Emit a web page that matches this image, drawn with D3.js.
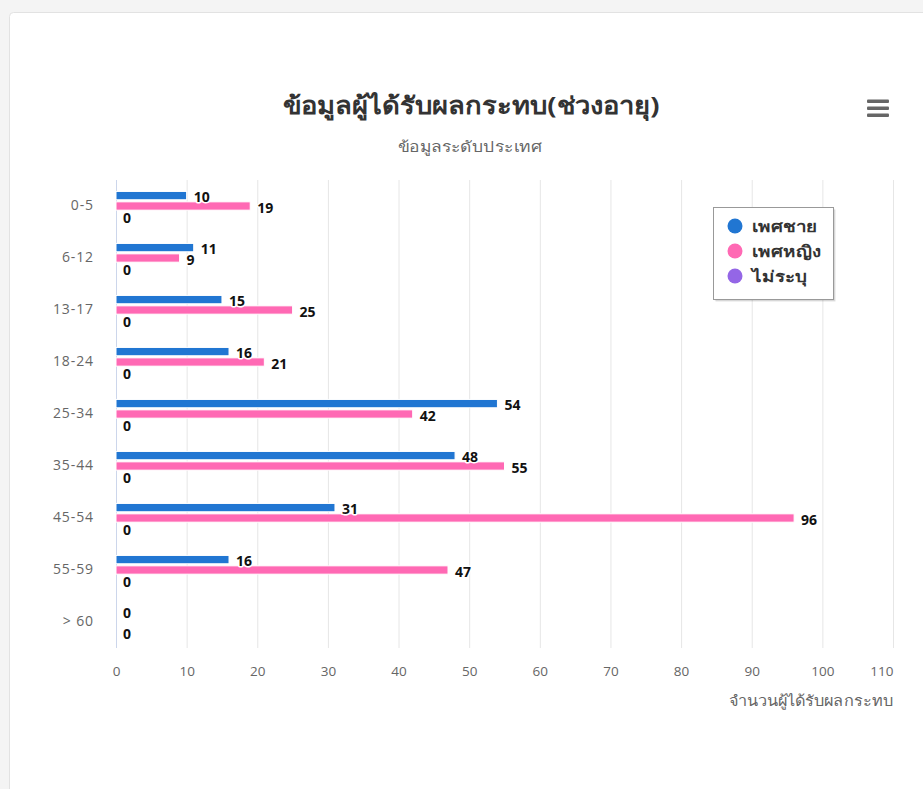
<!DOCTYPE html>
<html><head><meta charset="utf-8">
<script src="https://cdn.jsdelivr.net/npm/d3@7/dist/d3.min.js"></script>
<style>
html,body{margin:0;padding:0;background:#f4f4f4;}
svg{display:block;}
</style></head>
<body>
<svg id="c" width="923" height="789"></svg>
<script>
const categories = ["0-5","6-12","13-17","18-24","25-34","35-44","45-54","55-59","> 60"];
const male = [10,11,15,16,54,48,31,16,0];
const female = [19,9,25,21,42,55,96,47,0];
const unspecified = [0,0,0,0,0,0,0,0,0];
const seriesNames = ["เพศชาย","เพศหญิง","ไม่ระบุ"];
const seriesColors = ["#2176d2","#ff69b4","#9466e6"];
const xTicks = [0,10,20,30,40,50,60,70,80,90,100,110];
const titleText = "ข้อมูลผู้ได้รับผลกระทบ(ช่วงอายุ)";
const subtitleText = "ข้อมูลระดับประเทศ";
const xTitleText = "จำนวนผู้ได้รับผลกระทบ";

(function(){
const font = "'Open Sans','Noto Sans','DejaVu Sans',sans-serif";
const svg = d3.select("#c");

// card
svg.append("rect").attr("x",9.5).attr("y",12.5).attr("width",940).attr("height",800)
  .attr("rx",4).attr("fill","#fff").attr("stroke","#e2e2e2");

const pL=116, pR=893, pT=180, pB=648;
const x = d3.scaleLinear().domain([0,110]).range([pL,pR]);
const y = d3.scaleBand().domain(categories).range([pT,pB]);
const series = [male,female,unspecified];
const bw = y.bandwidth();
const groupW = bw*0.6;
const slot = groupW/3;
const barH = slot*0.8;
function slotCenter(i){ return -groupW/2 + slot*(i+0.5); }

// gridlines
svg.append("g").selectAll("line").data(xTicks.slice(1)).join("line")
  .attr("x1",d=>x(d)+0.5).attr("x2",d=>x(d)+0.5).attr("y1",pT).attr("y2",pB)
  .attr("stroke","#e6e6e6").attr("stroke-width",1);

// x axis labels
const xAxis = d3.axisBottom(x).tickValues(xTicks).tickSize(0).tickPadding(0);
const xa = svg.append("g").attr("transform",`translate(0,671)`).call(xAxis);
xa.select(".domain").remove();
xa.selectAll(".tick text").attr("y",0).attr("dy",null).attr("dominant-baseline","central")
  .attr("font-family",font).attr("font-size",13.5).attr("fill","#666");
xa.selectAll(".tick").filter(d=>d===110).select("text").attr("text-anchor","end").attr("x",0);

// y axis
const yAxis = d3.axisLeft(y).tickSize(0).tickPadding(22);
const ya = svg.append("g").attr("transform",`translate(${pL},0)`).call(yAxis);
ya.select(".domain").remove();
ya.selectAll("text").attr("font-family",font).attr("font-size",14).attr("letter-spacing",0.9).attr("fill","#666");
svg.append("line").attr("x1",pL+0.5).attr("x2",pL+0.5).attr("y1",pT).attr("y2",pB)
  .attr("stroke","#ccd6eb");

// bars
series.forEach((vals,si)=>{
  svg.append("g").selectAll("rect").data(vals).join("rect")
    .attr("x",pL)
    .attr("y",(d,i)=>y(categories[i])+bw/2+slotCenter(si)-barH/2)
    .attr("height",barH)
    .attr("width",d=>x(d)-pL)
    .attr("fill",seriesColors[si])
    .attr("stroke","#fff").attr("stroke-width",d=>d>0?1:0);
});

// data labels with overlap hiding
const placed=[];
const lg = svg.append("g");
categories.forEach((c,ci)=>{
  series.forEach((vals,si)=>{
    const v = vals[ci];
    const tx = x(v)+7;
    const ty = y(c)+bw/2+slotCenter(si)+1;
    const txt = String(v);
    const w = txt.length*8, h=12;
    const box={x0:tx,x1:tx+w,y0:ty-h/2,y1:ty+h/2};
    const hit = placed.some(b=>!(box.x1<=b.x0||box.x0>=b.x1||box.y1<=b.y0||box.y0>=b.y1));
    if(hit) return;
    placed.push(box);
    lg.append("text").attr("x",tx).attr("y",ty).attr("dominant-baseline","central")
      .attr("font-family",font).attr("font-size",14).attr("font-weight",700)
      .attr("fill","#111").attr("stroke","#fff").attr("stroke-width",3).attr("stroke-linejoin","round")
      .attr("paint-order","stroke").text(txt);
  });
});

// title, subtitle
svg.append("text").attr("x",471).attr("y",104).attr("text-anchor","middle").attr("dominant-baseline","central")
  .attr("font-family",font).attr("font-size",24).attr("font-weight",700).attr("fill","#333")
  .attr("textLength",377).attr("lengthAdjust","spacingAndGlyphs").text(titleText);
svg.append("text").attr("x",470).attr("y",146).attr("text-anchor","middle").attr("dominant-baseline","central")
  .attr("font-family",font).attr("font-size",15).attr("fill","#666")
  .attr("textLength",145).attr("lengthAdjust","spacingAndGlyphs").text(subtitleText);

// x axis title
svg.append("text").attr("x",893).attr("y",700).attr("text-anchor","end").attr("dominant-baseline","central")
  .attr("font-family",font).attr("font-size",14.5).attr("fill","#666")
  .attr("textLength",164).attr("lengthAdjust","spacingAndGlyphs").text(xTitleText);

// menu icon
[101,108,115].forEach(yy=>{
  svg.append("rect").attr("x",867).attr("y",yy-1.5).attr("width",22).attr("height",3.5).attr("rx",1).attr("fill","#666");
});

// legend
const legX=713, legY=207, legW=120, legH=92;
svg.append("rect").attr("x",legX+2.5).attr("y",legY+2.5).attr("width",legW).attr("height",legH)
  .attr("fill","#000").attr("opacity",0.12);
svg.append("rect").attr("x",legX+1.5).attr("y",legY+1.5).attr("width",legW).attr("height",legH)
  .attr("fill","#000").attr("opacity",0.08);
svg.append("rect").attr("x",legX+0.5).attr("y",legY+0.5).attr("width",legW).attr("height",legH)
  .attr("fill","#fff").attr("stroke","#999");
const leg = svg.append("g").selectAll("g").data(seriesNames).join("g")
  .attr("transform",(d,i)=>`translate(${legX+22},${legY+19+i*25})`);
leg.append("circle").attr("r",7.5).attr("fill",(d,i)=>seriesColors[i]);
leg.append("text").attr("x",17).attr("y",0).attr("dominant-baseline","central")
  .attr("font-family",font).attr("font-size",15).attr("font-weight",700).attr("fill","#333")
  .text(d=>d)
  .each(function(){ const t=d3.select(this); const w=this.getComputedTextLength(); t.attr("textLength",w*1.25).attr("lengthAdjust","spacingAndGlyphs"); });
})();
</script>
</body></html>
